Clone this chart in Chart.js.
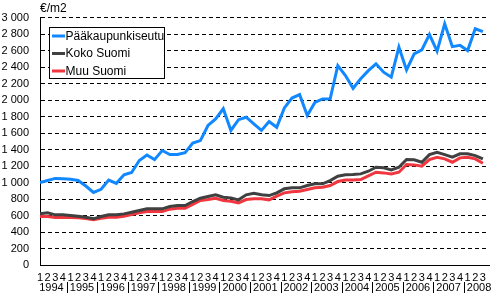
<!DOCTYPE html>
<html>
<head>
<meta charset="utf-8">
<script src="https://cdn.jsdelivr.net/npm/chart.js@4/dist/chart.umd.min.js"></script>
<style>
  html, body { margin: 0; padding: 0; background: #fff; }
</style>
</head>
<body>
<canvas id="priceChart" width="493" height="294"></canvas>
<script>
// --- data (quarterly €/m2, 1994 Q1 - 2008 Q3) ---
const years = ['1994', '1995', '1996', '1997', '1998', '1999', '2000', '2001',
               '2002', '2003', '2004', '2005', '2006', '2007', '2008'];
const quarterNames = ['1', '2', '3', '4'];
const yTicks = [0, 200, 400, 600, 800, 1000, 1200, 1400, 1600, 1800, 2000,
                2200, 2400, 2600, 2800, 3000];
const seriesNames = ['Pääkaupunkiseutu', 'Koko Suomi', 'Muu Suomi'];

const paakaupunkiseutu = [
  1000, 1025, 1050, 1045,
  1040, 1025, 958, 880,
  918, 1030, 990, 1095,
  1122, 1267, 1333, 1278,
  1388, 1340, 1340, 1362,
  1478, 1508, 1692, 1772,
  1895, 1632, 1762, 1792,
  1712, 1632, 1740, 1670,
  1905, 2025, 2066, 1812,
  1972, 2014, 2016, 2418,
  2298, 2143, 2258, 2357,
  2440, 2338, 2278, 2642,
  2366, 2560, 2608, 2795,
  2592, 2925, 2648, 2665,
  2600, 2865, 2830
];
const kokoSuomi = [
  620, 633, 608, 608,
  600, 591, 580, 560,
  588, 608, 608, 620,
  640, 660, 681, 681,
  681, 709, 721, 721,
  770, 810, 830, 851,
  822, 814, 790, 851,
  870, 851, 842, 875,
  924, 936, 936, 964,
  984, 984, 1024, 1076,
  1095, 1097, 1105, 1137,
  1185, 1178, 1153, 1185,
  1279, 1275, 1246, 1339,
  1367, 1339, 1307, 1348,
  1348, 1327, 1287
];
const muuSuomi = [
  588, 588, 576, 576,
  576, 573, 564, 548,
  568, 580, 580, 591,
  612, 633, 648, 648,
  648, 677, 689, 689,
  736, 782, 794, 810,
  782, 773, 754, 794,
  802, 802, 790, 834,
  875, 887, 895, 915,
  936, 943, 964, 1012,
  1030, 1032, 1036, 1081,
  1125, 1117, 1105, 1125,
  1218, 1214, 1198, 1279,
  1307, 1287, 1246, 1299,
  1307, 1287, 1234
];

const colors = ['#1188ff', '#404040', '#f0363e'];
const FONT = '"Liberation Sans", Arial, sans-serif';

// one label per quarter, e.g. "1994 1"
const periods = [];
years.forEach(y => quarterNames.forEach(q => periods.push(y + ' ' + q)));
periods.length = paakaupunkiseutu.length;

const toPoints = arr => arr.map((v, i) => ({ x: i, y: v }));

// "2 800" style numbers
function fmt(v) {
  if (v < 1000) return String(v);
  return Math.floor(v / 1000) + ' ' + String(v % 1000).padStart(3, '0');
}

// year labels, separators, unit label and the boxed legend
const extras = {
  id: 'extras',
  afterDraw(chart) {
    const ctx = chart.ctx;
    const xs = chart.scales.x;
    ctx.save();
    ctx.fillStyle = '#000';
    ctx.strokeStyle = '#000';
    ctx.lineWidth = 1;
    ctx.font = '11px ' + FONT;
    ctx.textAlign = 'center';
    ctx.textBaseline = 'middle';
    years.forEach((y, k) => {
      const first = k * 4;
      ctx.fillText(y, xs.getPixelForValue(first + 1.5), 288);
      if (k > 0) {
        const sx = Math.round(xs.getPixelForValue(first - 0.5)) + 0.5;
        ctx.beginPath();
        ctx.moveTo(sx, 282);
        ctx.lineTo(sx, 293);
        ctx.stroke();
      }
    });

    // unit
    ctx.textAlign = 'left';
    ctx.font = '12px ' + FONT;
    ctx.fillText('€/m2', 40, 8.5);

    // legend
    ctx.fillStyle = '#fff';
    ctx.fillRect(49.5, 27.5, 115, 51);
    ctx.strokeRect(49.5, 27.5, 115, 51);
    const rows = [36, 53.5, 71];
    seriesNames.forEach((name, i) => {
      ctx.strokeStyle = colors[i];
      ctx.lineWidth = 3;
      ctx.beginPath();
      ctx.moveTo(52, rows[i]);
      ctx.lineTo(65, rows[i]);
      ctx.stroke();
      ctx.fillStyle = '#000';
      ctx.fillText(name, 65.5, rows[i] + 0.5);
    });
    ctx.restore();
  }
};

const ctxC = document.getElementById('priceChart').getContext('2d');
new Chart(ctxC, {
  type: 'line',
  data: {
    datasets: [
      { label: seriesNames[0], data: toPoints(paakaupunkiseutu) },
      { label: seriesNames[1], data: toPoints(kokoSuomi) },
      { label: seriesNames[2], data: toPoints(muuSuomi) }
    ].map((d, i) => Object.assign(d, {
      borderColor: colors[i],
      backgroundColor: colors[i],
      borderWidth: 3,
      pointRadius: 0,
      tension: 0,
      fill: false
    }))
  },
  options: {
    responsive: false,
    animation: false,
    layout: { padding: { top: 17, right: 4, left: 0, bottom: 0 } },
    plugins: { legend: { display: false }, tooltip: { enabled: false } },
    scales: {
      x: {
        type: 'linear',
        min: 0,
        max: periods.length - 0.2,
        grid: { display: false, drawTicks: false },
        border: { display: true, color: '#000', width: 1 },
        afterBuildTicks: s => { s.ticks = periods.map((_, i) => ({ value: i })); },
        afterFit: s => { s.height = 29; },
        ticks: {
          autoSkip: false,
          maxRotation: 0,
          minRotation: 0,
          padding: 6,
          color: '#000',
          font: { family: FONT, size: 11 },
          callback: v => quarterNames[v % 4]
        }
      },
      y: {
        min: 0,
        max: 3000,
        afterBuildTicks: s => { s.ticks = yTicks.map(v => ({ value: v })); },
        afterFit: s => { s.width = 40; },
        grid: { color: '#000', lineWidth: 1, drawTicks: false },
        border: { display: true, color: '#000', width: 1, dash: [4, 3] },
        ticks: {
          padding: 11,
          color: '#000',
          font: { family: FONT, size: 11 },
          callback: v => fmt(v)
        }
      }
    }
  },
  plugins: [extras]
});
</script>
</body>
</html>
